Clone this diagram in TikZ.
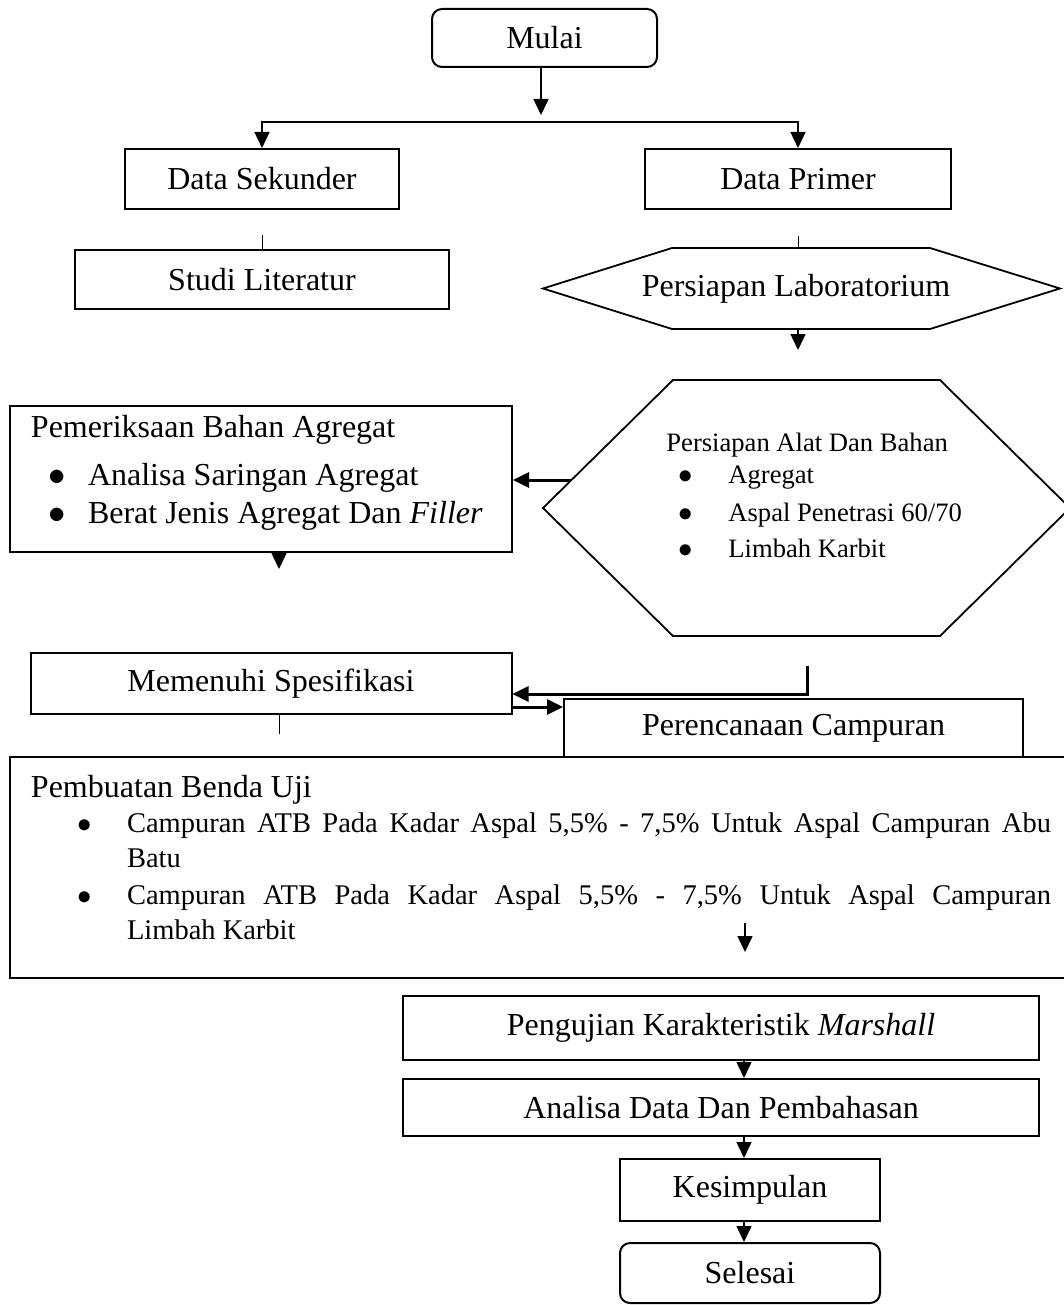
\documentclass[tikz,border=0pt]{standalone}
\usepackage{fontspec}
\setmainfont{Liberation Serif}
\usepackage{tikz}
\usetikzlibrary{arrows.meta}
\newcommand{\besar}{\fontsize{16pt}{17.5pt}\selectfont}
\newcommand{\sedang}{\fontsize{14.25pt}{17.5pt}\selectfont}
\newcommand{\kecil}{\fontsize{13.3pt}{18pt}\selectfont}
\newcommand{\butir}[2]{\makebox[#2][l]{\hspace*{#1}$\bullet$}}

\begin{document}
\begin{tikzpicture}[x=0.5pt,y=-0.5pt,
kotak/.style={draw,line width=1pt,inner sep=0pt,font=\besar},
mulaiselesai/.style={kotak,rounded corners=5pt},
heksa/.style={draw,line width=0.9pt},
panah/.style={-{Triangle[length=8pt,width=7.5pt]},line width=0.75pt},
tebal/.style={line width=1.5pt}]
\useasboundingbox (0,0) rectangle (1064,1305);
\clip (0,0) rectangle (1064,1305);
\node[mulaiselesai,minimum width=112.5pt,minimum height=29pt] (mulai) at (544.5,38) {Mulai};
\node[kotak,minimum width=137pt,minimum height=30pt] (sekunder) at (262,179) {Data Sekunder};
\node[kotak,minimum width=153pt,minimum height=30pt] (primer) at (798,179) {Data Primer};
\node[kotak,minimum width=187pt,minimum height=29.5pt] (studi) at (262,279.5) {Studi Literatur};
\draw[heksa](543,288.5)--(672,248)--(930,248)--(1060,288.5)--(930,329)--(672,329)--cycle;
\node[font=\besar] (lab) at (796,289) {Persiapan Laboratorium};
\draw[heksa](543,508)--(673,380)--(940,380)--(1070,508)--(940,636)--(673,636)--cycle;
\node[font=\kecil,align=flush left,anchor=north west,inner sep=0pt] (alat) at (666,433) {Persiapan Alat Dan Bahan\\[-2pt]
\butir{6.2pt}{31pt}Agregat\\[1pt]
\butir{6.2pt}{31pt}Aspal Penetrasi 60/70\\
\butir{6.2pt}{31pt}Limbah Karbit};
\node[kotak,text width=230pt,align=flush left,inner xsep=10.5pt,inner ysep=0pt,minimum height=73pt] (pem) at (261,479) {Pemeriksaan Bahan Agregat\\[6.5pt]
\butir{9pt}{28.5pt}Analisa Saringan Agregat\\[1.5pt]
\butir{9pt}{28.5pt}Berat Jenis Agregat Dan \textit{Filler}\rule[-10pt]{0pt}{10pt}};
\node[kotak,minimum width=240.5pt,minimum height=30.5pt] (spec) at (271,683.5) {Memenuhi Spesifikasi};
\node[kotak,minimum width=229.5pt,minimum height=29pt] (renc) at (793.5,728) {Perencanaan Campuran};
\node[kotak,text width=510.5pt,align=flush left,inner xsep=10.5pt,inner ysep=0pt,minimum height=110.5pt] (uji) at (541.5,867.5) {Pembuatan Benda Uji\\
\sedang\butir{23.4pt}{48pt}\makebox[462pt][s]{Campuran ATB Pada Kadar Aspal 5,5\% - 7,5\% Untuk Aspal Campuran Abu}\\
\hspace*{48pt}Batu\\[1pt]
\butir{23.4pt}{48pt}\makebox[462pt][s]{Campuran ATB Pada Kadar Aspal 5,5\% - 7,5\% Untuk Aspal Campuran}\\
\hspace*{48pt}Limbah Karbit\rule[-10pt]{0pt}{10pt}};
\node[kotak,minimum width=318pt,minimum height=32pt] (penguji) at (721,1028) {Pengujian Karakteristik \textit{Marshall}};
\node[kotak,minimum width=318pt,minimum height=28.5pt] (analisa) at (721,1107.5) {Analisa Data Dan Pembahasan};
\node[kotak,minimum width=130pt,minimum height=31pt] (simpul) at (750,1190) {Kesimpulan};
\node[mulaiselesai,minimum width=130pt,minimum height=30pt] (selesai) at (750,1273) {Selesai};
\coordinate (cab) at (541,122);
\coordinate (cabA) at (541,115);
\draw[panah](mulai.south -| cab)--(cabA);
\draw[panah](cab)-|(sekunder.north);
\draw[panah](cab)-|(primer.north);
\draw(studi.north)--++(0,-14);
\coordinate (labN) at (798,248);
\coordinate (labS) at (798,329);
\draw(labN)--++(0,-12);
\draw[panah](labS)--++(0,21);
\coordinate (alatW) at (571,480);
\draw[panah,tebal](alatW)--(alatW -| pem.east);
\draw[panah]([xshift=9pt]pem.south)--++(0,16);
\coordinate (balik) at (807,666);
\draw[panah,tebal](balik)|-([yshift=-5.25pt]spec.east);
\draw[panah,tebal]([yshift=-11.75pt]spec.east)--([yshift=-11.75pt]spec.east -| renc.west);
\draw([xshift=4pt]spec.south)--++(0,19);
\coordinate (ujiA) at (745,923);
\draw[panah](ujiA)--++(0,29);
\coordinate (sumbu) at (744,0);
\draw[panah](penguji.south -| sumbu)--(analisa.north -| sumbu);
\draw[panah](analisa.south -| sumbu)--(simpul.north -| sumbu);
\draw[panah](simpul.south -| sumbu)--(selesai.north -| sumbu);
\end{tikzpicture}
\end{document}
